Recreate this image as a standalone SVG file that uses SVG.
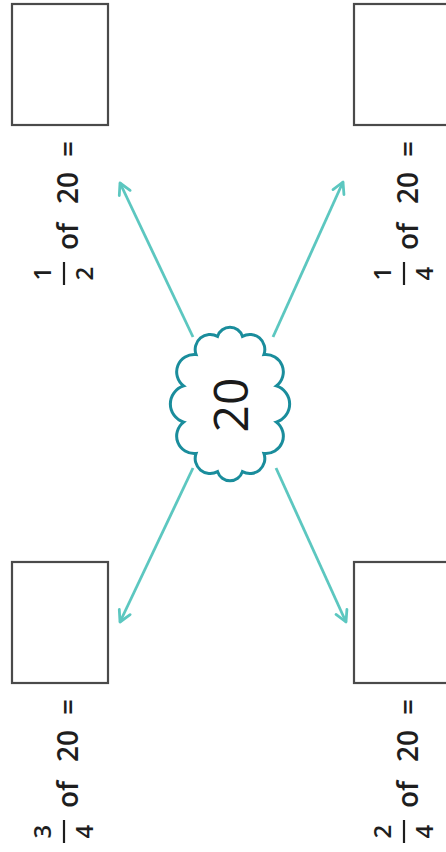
<svg xmlns="http://www.w3.org/2000/svg" width="446" height="852" viewBox="0 0 446 852">
<style>
.box{fill:#fff;stroke:#4a4a4a;stroke-width:2.2}
.lbl{font-family:"Open Sans","Liberation Sans",sans-serif;font-size:28px;font-weight:600;fill:#1e1e1e}
.frac{font-family:"Open Sans","Liberation Sans",sans-serif;font-size:24px;font-weight:600;fill:#1e1e1e;text-anchor:middle}
.bar{stroke:#1e1e1e;stroke-width:2.2}
.conn{stroke:#5cc7c0;stroke-width:2.8;fill:none;marker-end:url(#ah)}
.cloud{fill:#fff;stroke:#1a8d9c;stroke-width:3}
.big{font-family:"Open Sans","Liberation Sans",sans-serif;font-size:48px;font-weight:500;fill:#1a1a1a;text-anchor:middle}
</style>
<defs>
<marker id="ah" markerUnits="userSpaceOnUse" viewBox="0 0 16 16" refX="14" refY="8" markerWidth="16" markerHeight="16" orient="auto">
<path d="M3,2 L14,8 L3,14" fill="none" stroke="#5cc7c0" stroke-width="2.8" stroke-linecap="round" stroke-linejoin="round"/>
</marker>
</defs>
<g id="connectors">
<line class="conn" x1="193" y1="337" x2="120" y2="183"/>
<line class="conn" x1="273" y1="337" x2="343" y2="182"/>
<line class="conn" x1="193" y1="468" x2="120" y2="622"/>
<line class="conn" x1="276" y1="468" x2="346" y2="622"/>
</g>
<g id="center">
<path class="cloud" d="M217.58,336.39 A13,13 0 0 1 242.42,336.39 A15,15 0 0 1 263.94,354.5 A17.5,17.5 0 0 1 276.36,385.88 A19,19 0 0 1 276.36,422.12 A17.5,17.5 0 0 1 263.94,453.5 A15,15 0 0 1 242.42,471.61 A13,13 0 0 1 217.58,471.61 A15,15 0 0 1 196.06,453.5 A17.5,17.5 0 0 1 183.64,422.12 A19,19 0 0 1 183.64,385.88 A17.5,17.5 0 0 1 196.06,354.5 A15,15 0 0 1 217.58,336.39 Z"/>
<text class="big" transform="translate(248,405) rotate(-90)" x="0" y="0">20</text>
</g>
<g id="half">
<rect class="box" x="12" y="4" width="96" height="121"/>
<g transform="translate(78,285) rotate(-90)">
<text class="frac" x="11.5" y="-27">1</text>
<line class="bar" x1="0" y1="-14" x2="23" y2="-14"/>
<text class="frac" x="11.5" y="15">2</text>
<text class="lbl" y="0"><tspan x="35">of</tspan><tspan x="81">20</tspan><tspan x="128">=</tspan></text>
</g>
</g>
<g id="quarter">
<rect class="box" x="354" y="4" width="96" height="121"/>
<g transform="translate(418,285) rotate(-90)">
<text class="frac" x="11.5" y="-27">1</text>
<line class="bar" x1="0" y1="-14" x2="23" y2="-14"/>
<text class="frac" x="11.5" y="15">4</text>
<text class="lbl" y="0"><tspan x="35">of</tspan><tspan x="81">20</tspan><tspan x="128">=</tspan></text>
</g>
</g>
<g id="threequarters">
<rect class="box" x="12" y="562" width="96" height="121"/>
<g transform="translate(78,843) rotate(-90)">
<text class="frac" x="11.5" y="-27">3</text>
<line class="bar" x1="0" y1="-14" x2="23" y2="-14"/>
<text class="frac" x="11.5" y="15">4</text>
<text class="lbl" y="0"><tspan x="35">of</tspan><tspan x="81">20</tspan><tspan x="128">=</tspan></text>
</g>
</g>
<g id="twoquarters">
<rect class="box" x="354" y="562" width="96" height="121"/>
<g transform="translate(418,843) rotate(-90)">
<text class="frac" x="11.5" y="-27">2</text>
<line class="bar" x1="0" y1="-14" x2="23" y2="-14"/>
<text class="frac" x="11.5" y="15">4</text>
<text class="lbl" y="0"><tspan x="35">of</tspan><tspan x="81">20</tspan><tspan x="128">=</tspan></text>
</g>
</g>
</svg>
